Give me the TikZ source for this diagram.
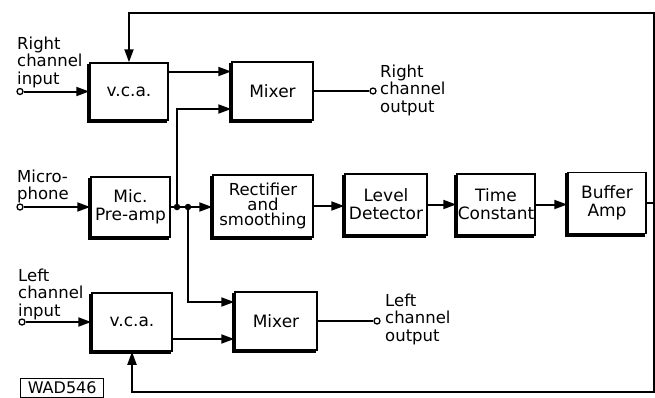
\documentclass[tikz,border=0pt]{standalone}
\usepackage{fontspec}
\setmainfont{DejaVu Sans}
\usetikzlibrary{arrows.meta}
\begin{document}
\begin{tikzpicture}[x=1pt,y=-1pt,
  blk/.style={draw, line width=1.5pt, inner sep=0pt, align=center, font=\fontsize{17}{18}\selectfont},
  conn/.style={line width=2pt},
  arr/.style={conn, -{Triangle[length=13pt,width=9pt]}},
  term/.style={circle, draw, line width=1.3pt, fill=white, inner sep=0pt, minimum size=6pt},
  jdot/.style={circle, fill, inner sep=0pt, minimum size=6.5pt},
  lbl/.style={anchor=north west, inner sep=0pt, align=left, font=\fontsize{16.5}{17.5}\selectfont}]
\useasboundingbox (0,0) rectangle (655,397);

% blocks
\node[blk, minimum width=78pt, minimum height=57pt] (vcaR) at (129,91.5) {v.c.a.};
\node[blk, minimum width=81pt, minimum height=58pt] (mixR) at (272.5,91) {Mixer};
\node[blk, minimum width=79pt, minimum height=60pt] (mic) at (130.5,207) {Mic.\\Pre-amp};
\node[blk, minimum width=100pt, minimum height=62pt, font=\fontsize{16.5}{15}\selectfont] (rect) at (263,206) {Rectifier\\and\\smoothing};
\node[blk, minimum width=82pt, minimum height=61pt] (level) at (386,204.5) {Level\\Detector};
\node[blk, minimum width=78pt, minimum height=61pt] (time) at (496,204.5) {Time\\Constant};
\node[blk, minimum width=78pt, minimum height=61pt] (buf) at (607,203) {Buffer\\Amp};
\node[blk, minimum width=80pt, minimum height=58pt] (vcaL) at (132,322) {v.c.a.};
\node[blk, minimum width=82pt, minimum height=58pt] (mixL) at (276,321) {Mixer};

% shadows (thick left and bottom edges)
\foreach \n in {vcaR,mixR,mic,rect,level,time,buf,vcaL,mixL}
  \draw[line width=3.2pt] ([shift={(-1pt,-1.5pt)}]\n.north west) -- ([shift={(-1pt,-1pt)}]\n.south west) -- ([shift={(-1.5pt,-1pt)}]\n.south east);

% terminals
\node[term] (iR) at (20,91.5) {};
\node[term] (iM) at (20,207) {};
\node[term] (iL) at (22,322) {};
\node[term] (oR) at (373,91) {};
\node[term] (oL) at (377,321) {};

% junctions
\node[jdot] (d1) at (177,207) {};
\node[jdot] (d2) at (188,207) {};
\coordinate (jr) at (654,203);
\coordinate (tr) at (654,13);
\coordinate (br) at (654,392);

% labels
\node[lbl] (tRi) at (17,36.5) {Right\\channel\\input};
\node[lbl] (tMi) at (17,169.5) {Micro-\\phone};
\node[lbl] (tLi) at (18,268.5) {Left\\channel\\input};
\node[lbl] (tRo) at (380,64.5) {Right\\channel\\output};
\node[lbl] (tLo) at (385,293.5) {Left\\channel\\output};

% inputs
\draw[arr] (iR) -- (iR -| vcaR.west);
\draw[arr] (iM) -- (iM -| mic.west);
\draw[arr] (iL) -- (iL -| vcaL.west);

% right channel
\draw[arr] ([yshift=20pt]vcaR.east) coordinate (p1) -- (p1 -| mixR.west);
\draw[conn] (mixR.east) -- (oR);

% microphone path
\draw[conn] (mic.east |- d1) -- (d1) -- (d2);
\draw[arr] (d2) -- (d2 -| rect.west);
\draw[arr] (d1.center) |- ([yshift=-18pt]mixR.west);
\draw[arr] (d2.center) |- ([yshift=19pt]mixL.west);
\draw[arr] (rect.east) -- (rect.east -| level.west);
\draw[arr] (level.east) -- (level.east -| time.west);
\draw[arr] (time.east) coordinate (p2) -- (p2 -| buf.west);
\draw[conn] (buf.east) -- (jr);

% feedback
\draw[arr] (jr) -- (tr) -| (vcaR.north);
\draw[arr] (jr) -- (br) -| (vcaL.south);

% left channel
\draw[arr] ([yshift=-17pt]vcaL.east) coordinate (p3) -- (p3 -| mixL.west);
\draw[conn] (mixL.east) -- (oL);

% reference tag
\node[draw, line width=1.3pt, inner sep=0pt, minimum width=83pt, minimum height=19pt, anchor=north west, font=\fontsize{16}{16}\selectfont] (tag) at (20,377.5) {WAD546};
\end{tikzpicture}
\end{document}
